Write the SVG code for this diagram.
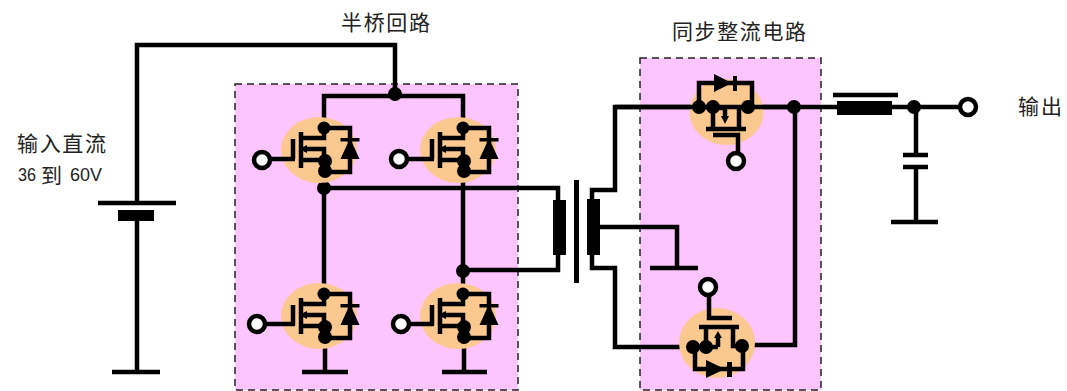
<svg xmlns="http://www.w3.org/2000/svg" width="1067" height="391" viewBox="0 0 1067 391">
<style>
.w{fill:none;stroke:#000;stroke-width:4.500;stroke-linejoin:miter}
.b{fill:#000}
.p{fill:#fdc5fd;stroke:#222;stroke-width:1.500;stroke-dasharray:7 5}
.h{fill:#fbc88f}
.o{fill:#fff;stroke:#000;stroke-width:4.500}
.l{font-family:"Noto Sans CJK SC","Noto Sans",sans-serif;font-size:21px;fill:#222}
.m{font-family:"Liberation Sans",sans-serif;font-size:19px;fill:#222}
</style>
<defs>
<g id="q">
<ellipse class="h" cx="-5" cy="22" rx="38" ry="33"/>
<path class="w" d="M0 0V10H-23M-31 11V31M-23 4V40M-23 32H1M-18 21H0V43M0 0H26V44H0"/>
<path class="b" d="M-25 21l8-4v8zM26 10l9.500 21H16.500zM16.500 10h19v3.500H16.500z"/>
<circle class="b" cx="0" cy="0" r="6.500"/><circle class="b" cx="1" cy="33" r="7"/><circle class="b" cx="1" cy="43" r="7"/>
</g>
</defs>
<rect class="p" x="235" y="84" width="283" height="306"/>
<rect class="p" x="640" y="58" width="181" height="332"/>
<g id="connectors">
<path class="w" d="M395 94V45H137V203M137 221V372M324 128V96H463V128M324 171V294M463 171V294M324 188H558V200M558 255V270H463M600 227H677V268M592 199V190H615V107H958M592 255V268H615V347H693M742 345H795V107M916 107V155M916 167V222M325 337V372M464 337V372"/>
<circle class="b" cx="395" cy="94" r="7"/>
<circle class="b" cx="324" cy="188" r="7"/>
<circle class="b" cx="463" cy="271" r="7"/>
<circle class="b" cx="794" cy="107" r="7"/>
<circle class="b" cx="914" cy="107" r="7"/>
</g>
<g id="q1"><use href="#q" x="324" y="128"/><path class="w" d="M270 159H295"/><circle class="o" cx="262" cy="160" r="8"/></g>
<g id="q2"><use href="#q" x="463" y="128"/><path class="w" d="M407 159H434"/><circle class="o" cx="399" cy="159" r="8"/></g>
<g id="q3"><use href="#q" x="324" y="294"/><path class="w" d="M265 324H295"/><circle class="o" cx="257" cy="324" r="8"/></g>
<g id="q4"><use href="#q" x="463" y="294"/><path class="w" d="M409 324H434"/><circle class="o" cx="401" cy="324" r="8"/></g>
<g id="q5">
<ellipse class="h" cx="726.500" cy="112" rx="37" ry="33"/>
<path class="w" d="M615 107H794M699 107V83H752V107M713 107V128M739 107V128M706 129H746M713 135H738V153M713 108H725V116"/>
<path class="b" d="M714 74l18 9-18 9zM733 76h4v15h-4zM721 116h8l-4 8z"/>
<circle class="b" cx="699" cy="107" r="7"/><circle class="b" cx="713" cy="107" r="7"/><circle class="b" cx="748" cy="107" r="7"/>
<circle class="o" cx="736" cy="161" r="8"/>
</g>
<g id="q6">
<ellipse class="h" cx="717" cy="343" rx="38" ry="35"/>
<path class="w" d="M693 347H718M742 346H733V327M706 347V327M699 327H739M709 295V318H732M695 347V369H743V346M718 347V337"/>
<path class="b" d="M706 360l19 9-19 9zM727 362h5v15h-5zM714 338h8l-4-7z"/>
<circle class="b" cx="693" cy="347" r="7"/><circle class="b" cx="706" cy="347" r="7"/><circle class="b" cx="742" cy="346" r="7"/>
<circle class="o" cx="708" cy="287" r="8"/>
</g>
<g id="battery"><path class="w" d="M98 203H176M112 372H160"/><rect class="b" x="118" y="210" width="36" height="11"/></g>
<g id="transformer">
<rect class="b" x="553" y="200" width="13" height="55"/>
<rect class="b" x="587" y="199" width="13" height="56"/>
<rect class="b" x="574" y="180" width="5" height="103"/>
</g>
<g id="grounds"><path class="w" d="M302 372H348M442 372H487M650 268H698M891 222H938"/></g>
<g id="inductor"><path class="w" d="M833 95H898"/><rect class="b" x="837" y="101" width="55" height="14"/></g>
<g id="capacitor"><path class="w" d="M903 155H928M903 167H928"/></g>
<g id="output"><circle class="o" cx="968" cy="107" r="8"/></g>
<g id="labels">
<text class="l" x="341" y="30" textLength="89">半桥回路</text>
<text class="l" x="672" y="39" textLength="134">同步整流电路</text>
<text class="l" x="17" y="151" textLength="89">输入直流</text>
<text class="m" x="18" y="181" textLength="18" lengthAdjust="spacingAndGlyphs">36</text>
<text class="l" x="41" y="183">到</text>
<text class="m" x="70" y="181" textLength="32" lengthAdjust="spacingAndGlyphs">60V</text>
<text class="l" x="1018" y="114" textLength="44">输出</text>
</g>
</svg>
